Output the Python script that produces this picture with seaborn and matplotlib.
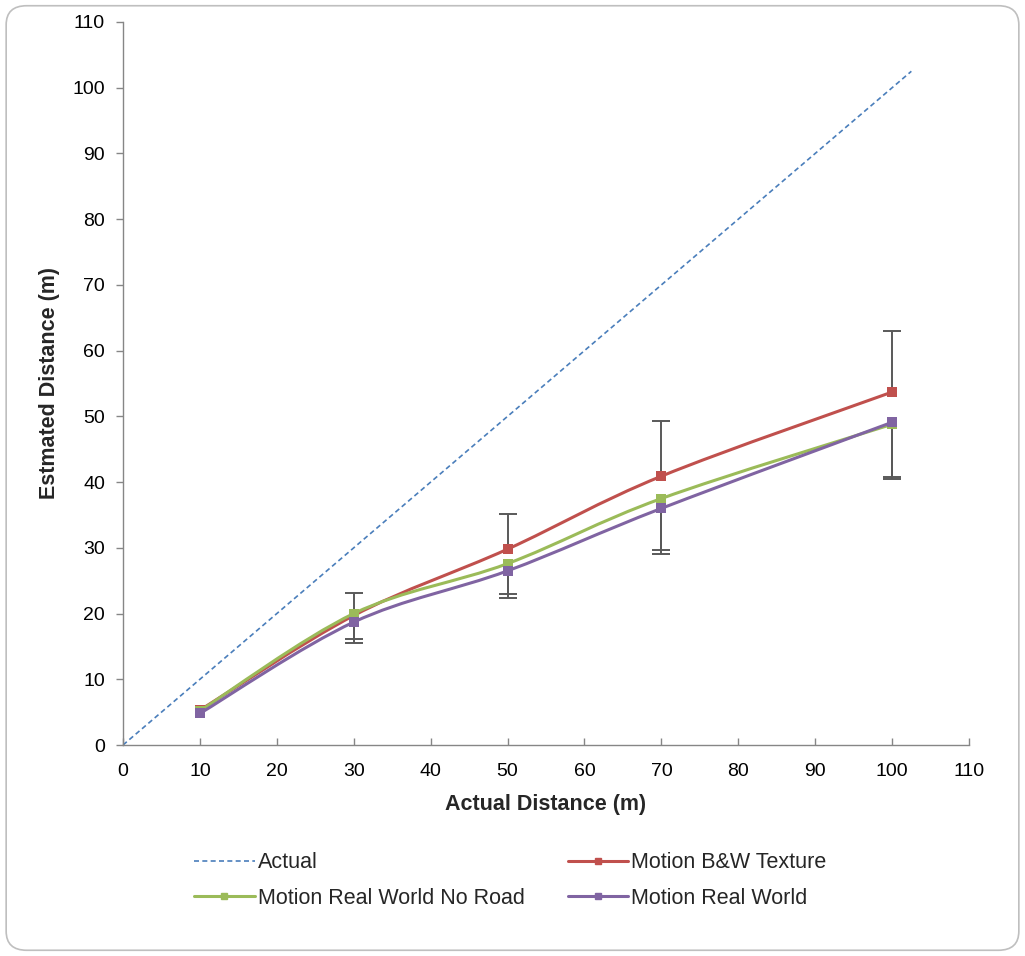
import matplotlib
matplotlib.use("Agg")
import numpy as np
import pandas as pd
import matplotlib.pyplot as plt
import seaborn as sns
from matplotlib.path import Path
from matplotlib.patches import PathPatch, FancyBboxPatch
from matplotlib.lines import Line2D

# data
distances = [10, 30, 50, 70, 100]
actual_x = [0, 102.5]
actual_y = [0, 102.5]
bw_texture = [5.3, 19.7, 29.8, 40.9, 53.7]
bw_err_up = [0.0, 3.4, 5.3, 8.4, 9.3]
rw_no_road = [5.2, 20.0, 27.6, 37.5, 48.8]
rw_no_road_err_down = [0.0, 3.9, 4.7, 7.9, 8.0]
real_world = [4.8, 18.7, 26.5, 36.0, 49.1]
real_world_err_down = [0.0, 3.2, 4.1, 7.0, 8.6]

c_actual = "#4A7EBB"
c_red = "#C0504D"
c_green = "#9BBB59"
c_purple = "#8064A2"
c_err = "#595959"

sns.set_style("white")
plt.rcParams['font.family'] = ['Liberation Sans', 'DejaVu Sans']

fig = plt.figure(figsize=(10.25, 9.56), dpi=100)
ax = fig.add_axes([0.12, 0.2207, 0.8254, 0.7563])

# rounded frame around the whole chart
frame = FancyBboxPatch((0.006, 0.006), 0.988, 0.988, boxstyle="round,pad=0,rounding_size=0.02",
                       transform=fig.transFigure, facecolor="none", edgecolor="#BFBFBF", lw=1.2)
fig.patches.append(frame)

sns.lineplot(x=actual_x, y=actual_y, ax=ax, color=c_actual, lw=1.2, linestyle=(0, (3, 2)))


def smooth_curve(ax, xs, ys, color):
    # Excel-style smoothed line as cubic Bezier segments
    pts = np.column_stack([xs, ys]).astype(float)
    n = len(pts)
    verts = [pts[0]]
    codes = [Path.MOVETO]
    for i in range(n - 1):
        p0 = pts[i - 1] if i > 0 else pts[i]
        p1 = pts[i]
        p2 = pts[i + 1]
        p3 = pts[i + 2] if i + 2 < n else pts[i + 1]
        c1 = p1 + (p2 - p0) / 6.0
        c2 = p2 - (p3 - p1) / 6.0
        verts += [c1, c2, p2]
        codes += [Path.CURVE4] * 3
    ax.add_patch(PathPatch(Path(verts, codes), facecolor="none", edgecolor=color, lw=2.2, zorder=3))


series = [
    (bw_texture, c_red),
    (rw_no_road, c_green),
    (real_world, c_purple),
]
for vals, col in series:
    smooth_curve(ax, distances, vals, col)


def one_sided_err(ax, xs, ys, err, sign):
    # stem from the point to the end, cap only at the far end; skip zero-size bars
    xs = np.array(xs)
    ys = np.array(ys)
    err = np.array(err)
    keep = err > 0
    ends = ys + sign * err
    ax.vlines(xs[keep], ys[keep], ends[keep], colors=c_err, lw=1.4, zorder=2)
    ax.plot(xs[keep], ends[keep], linestyle="none", marker="_", markersize=13, mew=1.4,
            color=c_err, zorder=2)


one_sided_err(ax, distances, bw_texture, bw_err_up, 1)
one_sided_err(ax, distances, rw_no_road, rw_no_road_err_down, -1)
one_sided_err(ax, distances, real_world, real_world_err_down, -1)

for vals, col in series:
    sns.scatterplot(x=distances, y=vals, ax=ax, marker="s", s=45, color=col, edgecolor=col,
                    linewidth=0, zorder=4)

ax.set_xlim(0, 110)
ax.set_ylim(0, 110)
ax.set_xticks(range(0, 111, 10))
ax.set_yticks(range(0, 111, 10))
ax.tick_params(axis="both", labelsize=14, colors="#000000", length=5, width=1,
               color="#868686", left=True, bottom=True)
ax.tick_params(axis="y", direction="out", pad=8)
ax.tick_params(axis="x", direction="in", pad=13)
for side in ["top", "right"]:
    ax.spines[side].set_visible(False)
for side in ["left", "bottom"]:
    ax.spines[side].set_color("#868686")
    ax.spines[side].set_linewidth(1)

ax.set_xlabel("Actual Distance (m)", fontsize=15.5, fontweight="bold", labelpad=10)
ax.set_ylabel("Estmated Distance (m)", fontsize=15.5, fontweight="bold", labelpad=9)

handles = [
    Line2D([], [], color=c_actual, lw=1.2, linestyle=(0, (3, 2))),
    Line2D([], [], color=c_green, lw=2.2, marker="s", markersize=5),
    Line2D([], [], color=c_red, lw=2.2, marker="s", markersize=5),
    Line2D([], [], color=c_purple, lw=2.2, marker="s", markersize=5),
]
labels = ["Actual", "Motion Real World No Road", "Motion B&W Texture", "Motion Real World"]
fig.legend(handles, labels, ncol=2, loc="center left", bbox_to_anchor=(0.179, 0.079),
           frameon=False, fontsize=15.5, handlelength=2.8, columnspacing=2.0,
           labelspacing=0.66, handletextpad=0.15, borderpad=0)

fig.savefig("out.png", dpi=100, facecolor="white")
